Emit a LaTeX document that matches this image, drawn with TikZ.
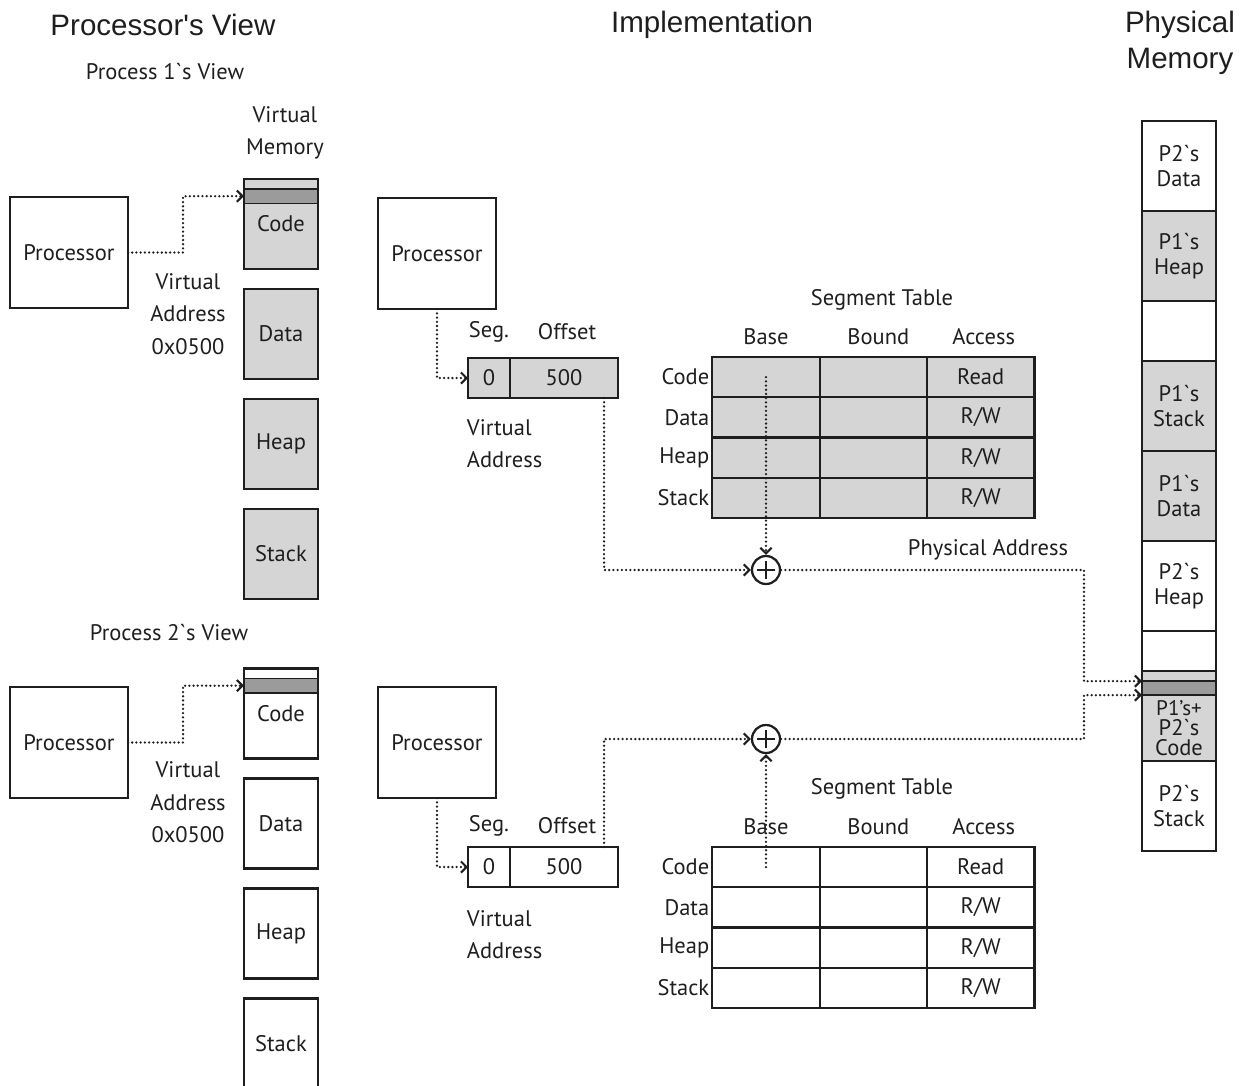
\documentclass[tikz,border=0pt]{standalone}
\usepackage{fontspec}
\setmainfont{PT Sans}
\newfontfamily\titlefont{Liberation Sans}
\usetikzlibrary{arrows.meta,positioning,calc}
\definecolor{inkgray}{HTML}{1E1E1E}
\definecolor{memgray}{HTML}{D5D5D5}
\definecolor{banddark}{HTML}{9B9B9B}
\newcommand{\bkq}{\textasciigrave}
\newcommand{\bodyfs}{\fontsize{16}{23}\selectfont}
\tikzset{
  heading/.style={font=\titlefont\fontsize{21}{26}\selectfont, text=inkgray, align=center},
  boxline/.style={draw=inkgray, line width=1.6pt, outer sep=0pt},
  procbox/.style={boxline, minimum width=2.95cm, minimum height=2.78cm, inner sep=1pt},
  vmseg/.style={boxline, minimum width=1.85cm, minimum height=2.25cm, inner sep=0pt},
  darkband/.style={boxline, line width=1.2pt, fill=banddark, minimum width=1.85cm, minimum height=0.36cm, inner sep=0pt},
  vabox/.style={boxline, minimum height=1.0cm, inner sep=0pt},
  tcell/.style={boxline, minimum width=2.683cm, minimum height=1.006cm, inner sep=0pt},
  rowlbl/.style={anchor=east, inner sep=2pt},
  pmseg/.style={boxline, minimum width=1.85cm, inner sep=0pt, align=center, font=\fontsize{16}{17.8}\selectfont},
  adder/.style={circle, draw=inkgray, line width=1.6pt, fill=white, minimum size=0.7cm, inner sep=0pt,
    path picture={\draw[line width=1.5pt] ([xshift=-0.22cm]path picture bounding box.center) -- ([xshift=0.22cm]path picture bounding box.center)
      ([yshift=-0.22cm]path picture bounding box.center) -- ([yshift=0.22cm]path picture bounding box.center);}},
  dotline/.style={draw=inkgray, line width=1.8pt, line cap=round, dash pattern=on 0pt off 3pt},
  dotarrow/.style={dotline, -{Straight Barb[length=1.4mm, width=2.8mm, line width=1.5pt]}}
}

\begin{document}
\begin{tikzpicture}[x=0.025cm, y=-0.025cm, font=\bodyfs, text=inkgray]
  \useasboundingbox (0,0) rectangle (1244,1086);

  % headings
  \node[heading] (hproc) at (163,25) {Processor's View};
  \node[heading] (himpl) at (712,25) {Implementation};
  \node[heading] (hphys) at (1180,43) {Physical\\Memory};

  % process 1 view
  \node (p1view) at (165,72) {Process 1\bkq s View};
  \node[align=center] (vm1lbl) at (285,133) {Virtual\\Memory};
  \node[procbox] (proc1) at (69,252.5) {Processor};
  \node[align=center] (va1lbl) at (188,314) {Virtual\\Address\\0x0500};
  \foreach \seg [count=\i from 0] in {Code,Data,Heap,Stack}
    \node[vmseg, fill=memgray] (vm1-\i) at (281,224+110*\i) {\seg};
  \node[darkband, anchor=north] (vm1band) at ($(vm1-0.north)+(0,10)$) {};
  \draw[dotarrow] (proc1.east) -- ++(55,0) |- (vm1band.west);

  % process 2 view
  \node (p2view) at (169,633) {Process 2\bkq s View};
  \node[procbox] (proc2) at (69,742.5) {Processor};
  \node[align=center] (va2lbl) at (188,802.5) {Virtual\\Address\\0x0500};
  \foreach \seg [count=\i from 0] in {Code,Data,Heap,Stack}
    \node[vmseg, fill=white] (vm2-\i) at (281,713.5+110*\i) {\seg};
  \node[darkband, anchor=north] (vm2band) at ($(vm2-0.north)+(0,10)$) {};
  \draw[dotarrow] (proc2.east) -- ++(55,0) |- (vm2band.west);

  % implementation, process 1
  \node[procbox] (proc3) at (437,253.5) {Processor};
  \node[vabox, fill=memgray, minimum width=1.05cm] (va1seg) at (489,378) {0};
  \node[vabox, fill=memgray, minimum width=2.7cm, right=0pt of va1seg] (va1off) {500};
  \node (seg1lbl) at (489,332) {Seg.};
  \node (off1lbl) at (567,332) {Offset};
  \node[anchor=west, align=left] (vaddr1) at (462,443.5) {Virtual\\Address};
  \node (segt1) at (882,300) {Segment Table};
  \foreach \r/\rl/\acc in {0/Code/Read,1/Data/{R/W},2/Heap/{R/W},3/Stack/{R/W}} {
    \node[tcell, fill=memgray] (ta\r0) at (766,377.1+40.25*\r) {};
    \node[tcell, fill=memgray, right=0pt of ta\r0] (ta\r1) {};
    \node[tcell, fill=memgray, right=0pt of ta\r1] (ta\r2) {\acc};
    \node[rowlbl] (tarow\r) at (ta\r0.west) {\rl};
  }
  \node (tabase) at ($(ta00.north)+(0,-20)$) {Base};
  \node (tabound) at ($(ta01.north)+(5,-20)$) {Bound};
  \node (taacc) at ($(ta02.north)+(3,-20)$) {Access};
  \node[adder] (plus1) at (766,570) {};
  \node (phys) at (988,550) {Physical Address};
  \coordinate (va1tap) at ($(va1off.south east)+(-14,0)$);
  \draw[dotarrow] (proc3.south) |- (va1seg.west);
  \draw[dotarrow] (va1tap) |- (plus1.west);
  \draw[dotarrow] (ta00.center) -- (plus1.north);

  % implementation, process 2
  \node[procbox] (proc4) at (437,742.5) {Processor};
  \node[vabox, fill=white, minimum width=1.05cm] (va2seg) at (489,867) {0};
  \node[vabox, fill=white, minimum width=2.7cm, right=0pt of va2seg] (va2off) {500};
  \node (seg2lbl) at (489,826) {Seg.};
  \node (off2lbl) at (567,826) {Offset};
  \node[anchor=west, align=left] (vaddr2) at (462,934.5) {Virtual\\Address};
  \node (segt2) at (882,789) {Segment Table};
  \foreach \r/\rl/\acc in {0/Code/Read,1/Data/{R/W},2/Heap/{R/W},3/Stack/{R/W}} {
    \node[tcell, fill=white] (tb\r0) at (766,867.1+40.25*\r) {};
    \node[tcell, fill=white, right=0pt of tb\r0] (tb\r1) {};
    \node[tcell, fill=white, right=0pt of tb\r1] (tb\r2) {\acc};
    \node[rowlbl] (tbrow\r) at (tb\r0.west) {\rl};
  }
  \node (tbbase) at ($(tb00.north)+(0,-20)$) {Base};
  \node (tbbound) at ($(tb01.north)+(5,-20)$) {Bound};
  \node (tbacc) at ($(tb02.north)+(3,-20)$) {Access};
  \node[adder] (plus2) at (766,739) {};
  \coordinate (va2tap) at ($(va2off.north east)+(-14,0)$);
  \draw[dotarrow] (proc4.south) |- (va2seg.west);
  \draw[dotarrow] (va2tap) |- (plus2.west);
  \draw[dotarrow] (tb00.center) -- (plus2.south);

  % physical memory
  \coordinate (pm0) at (1179,121);
  \foreach \i/\h/\f/\txt in {1/2.25/white/{P2\bkq s\\Data}, 2/2.25/memgray/{P1\bkq s\\Heap},
      3/1.5/white/{}, 4/2.25/memgray/{P1\bkq s\\Stack}, 5/2.25/memgray/{P1\bkq s\\Data},
      6/2.25/white/{P2\bkq s\\Heap}, 7/1.0/white/{}, 8/0.25/memgray/{}, 9/0.35/banddark/{},
      10/1.65/memgray/{\fontsize{15}{14}\selectfont P1’s+\\[-3.5pt]P2\bkq s\\[-3.5pt]Code}, 11/2.25/white/{P2\bkq s\\Stack}} {
    \pgfmathtruncatemacro\prev{\i-1}
    \node[pmseg, fill=\f, minimum height=\h cm, below=0pt of pm\prev] (pm\i) {\txt};
  }
  \draw[dotarrow] (plus1.east) -| ($(pm9.north west)+(-58,0)$) -- (pm9.north west);
  \draw[dotarrow] (plus2.east) -| ($(pm10.north west)+(-58,0)$) -- (pm10.north west);
\end{tikzpicture}
\end{document}
